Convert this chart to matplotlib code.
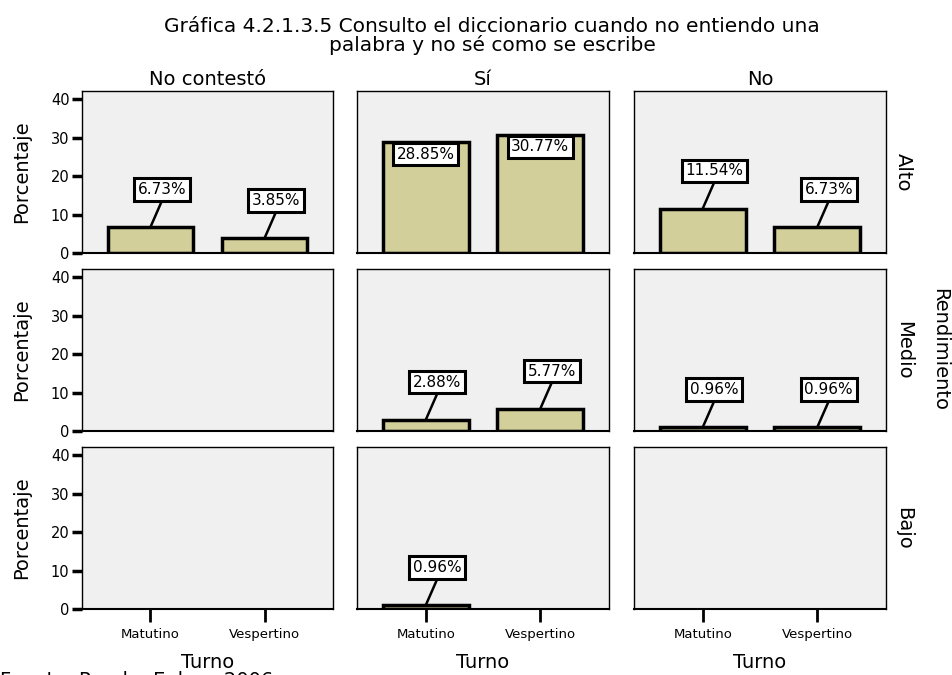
import matplotlib
matplotlib.use("Agg")
import matplotlib.pyplot as plt

plt.rcParams['font.family'] = ['DejaVu Sans']

# Data: percentage by Rendimiento (rows) x respuesta (columns) x Turno
turnos = ["Matutino", "Vespertino"]
respuestas = ["No contestó", "Sí", "No"]
rendimientos = ["Alto", "Medio", "Bajo"]

alto_no_contesto = [6.73, 3.85]
alto_si = [28.85, 30.77]
alto_no = [11.54, 6.73]
medio_no_contesto = [0.0, 0.0]
medio_si = [2.88, 5.77]
medio_no = [0.96, 0.96]
bajo_no_contesto = [0.0, 0.0]
bajo_si = [0.96, 0.0]
bajo_no = [0.0, 0.0]

grid = [
    [alto_no_contesto, alto_si, alto_no],
    [medio_no_contesto, medio_si, medio_no],
    [bajo_no_contesto, bajo_si, bajo_no],
]

W, H = 953, 675
fig = plt.figure(figsize=(W / 100, H / 100), dpi=100)

col_x = [(82, 333), (357, 609), (634, 886)]
row_y = [(91, 253), (269, 431), (447, 609)]

bar_color = "#d3cf9b"
bg = "#f0f0f0"
ymax = 42.1
box = dict(boxstyle="square,pad=0.24", fc="white", ec="black", lw=2.2)

for r, (y0, y1) in enumerate(row_y):
    for c, (x0, x1) in enumerate(col_x):
        ax = fig.add_axes([x0 / W, 1 - y1 / H, (x1 - x0) / W, (y1 - y0) / H])
        ax.set_facecolor(bg)
        vals = grid[r][c]
        xs = list(range(len(turnos)))
        for x, v in zip(xs, vals):
            if v <= 0:
                continue
            ax.bar(x, v, width=0.75, color=bar_color, edgecolor="black",
                   linewidth=2.5, zorder=2)
            label = f"{v:.2f}%"
            if v + 12 > ymax - 4:
                # label sits inside the top of a tall bar
                ax.text(x, v - 3.2, label, ha="center", va="center",
                        fontsize=11, zorder=4, bbox=box)
            else:
                ly = v + 9.8
                lx = x + 0.1
                ax.plot([x, lx], [v, ly - 3.0], color="black", lw=1.8, zorder=3)
                ax.text(lx, ly, label, ha="center", va="center", fontsize=11,
                        zorder=4, bbox=box)
        ax.set_xlim(-0.6, 1.6)
        ax.set_ylim(0, ymax)
        for s in ax.spines.values():
            s.set_linewidth(1.0)
        ax.spines["bottom"].set_linewidth(1.5)
        last_row = r == len(row_y) - 1
        if last_row:
            ax.set_xticks(xs)
            ax.set_xticklabels(turnos)
            ax.tick_params(axis="x", direction="out", length=9, width=2,
                           labelsize=9.5, pad=5)
            ax.set_xlabel("Turno", fontsize=14)
            ax.xaxis.set_label_coords(0.5, -(663 - 609) / (y1 - y0))
            ax.xaxis.label.set_va("center")
        else:
            ax.set_xticks([])
        if c == 0:
            ax.set_yticks([0, 10, 20, 30, 40])
            ax.tick_params(axis="y", direction="out", length=7, width=2.5,
                           labelsize=10.5, pad=2)
            ax.set_ylabel("Porcentaje", fontsize=14)
            ax.yaxis.set_label_coords(-(82 - 22) / (x1 - x0), 0.5)
            ax.yaxis.label.set_va("center")
        else:
            ax.set_yticks([])
        if r == 0:
            ax.set_title(respuestas[c], fontsize=14, pad=4)
        if c == len(col_x) - 1:
            ax.text(1.07, 0.5, rendimientos[r], transform=ax.transAxes,
                    rotation=-90, ha="center", va="center", fontsize=14)

fig.text(940 / W, 1 - 350 / H, "Rendimiento", rotation=-90, ha="center",
         va="center", fontsize=14)
fig.text(492 / W, 1 - 36 / H,
         "Gráfica 4.2.1.3.5 Consulto el diccionario cuando no entiendo una\n"
         "palabra y no sé como se escribe",
         ha="center", va="center", fontsize=14.5, linespacing=0.98)
fig.text(0 / W, 1 - 671 / H, "Fuente: Prueba Enlace 2006", ha="left",
         va="top", fontsize=14)

fig.savefig("out.png", dpi=100)
